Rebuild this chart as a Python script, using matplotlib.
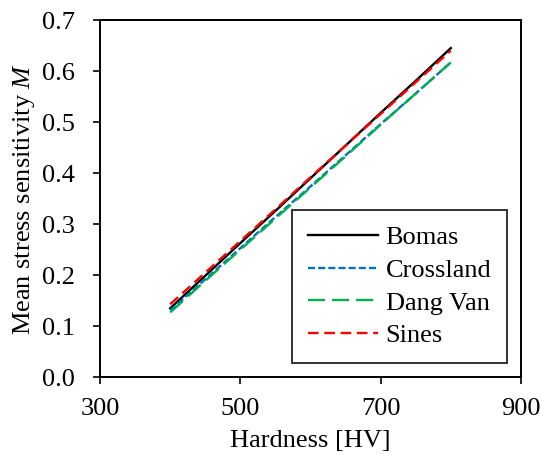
import matplotlib
matplotlib.use("Agg")
import matplotlib.pyplot as plt

plt.rcParams['font.family'] = ['Liberation Serif', 'DejaVu Serif']
plt.rcParams['mathtext.fontset'] = 'custom'
plt.rcParams['mathtext.it'] = 'Liberation Serif:italic'

hardness = [400, 450, 500, 550, 600, 650, 700, 750, 800]
bomas = [0.135, 0.199, 0.263, 0.326, 0.390, 0.454, 0.518, 0.581, 0.645]
crossland = [0.131, 0.192, 0.253, 0.314, 0.374, 0.435, 0.496, 0.556, 0.617]
dang_van = [0.127, 0.189, 0.250, 0.311, 0.372, 0.433, 0.495, 0.556, 0.617]
sines = [0.143, 0.205, 0.267, 0.329, 0.392, 0.454, 0.516, 0.578, 0.640]

fig = plt.figure(figsize=(5.41, 4.55), dpi=100)
ax = fig.add_axes([0.185, 0.171, 0.778, 0.785])

lw = 1.7
ax.plot(hardness, bomas, color='black', lw=lw, label='Bomas')
ax.plot(hardness, crossland, color='#0070C0', lw=lw, dashes=(3.0, 1.3), label='Crossland')
ax.plot(hardness, dang_van, color='#00B050', lw=lw, dashes=(7.2, 3.0), label='Dang Van')
ax.plot(hardness, sines, color='#FF0000', lw=lw, dashes=(4.5, 2.4), label='Sines')

ax.set_xlim(300, 900)
ax.set_ylim(0, 0.7)
ax.set_xticks([300, 500, 700, 900])
ax.set_yticks([0.0, 0.1, 0.2, 0.3, 0.4, 0.5, 0.6, 0.7])
ax.set_yticklabels([f'{v:.1f}' for v in [0.0, 0.1, 0.2, 0.3, 0.4, 0.5, 0.6, 0.7]])
ax.tick_params(axis='both', direction='out', labelsize=19, length=5, width=1.2)
ax.tick_params(axis='y', pad=13)
ax.tick_params(axis='x', pad=10)
for s in ax.spines.values():
    s.set_linewidth(1.4)

ax.set_xlabel('Hardness [HV]', fontsize=19, labelpad=7)
ax.set_ylabel('Mean stress sensitivity $\\mathit{M}$', fontsize=19, labelpad=4)

leg = ax.legend(loc='lower right', bbox_to_anchor=(0.967, 0.039), fontsize=19,
                frameon=True, fancybox=False, edgecolor='black', handlelength=2.65,
                borderpad=0.6, labelspacing=0.35, handletextpad=0.3, borderaxespad=0)
leg.get_frame().set_linewidth(1.4)

fig.savefig('out.png', dpi=100)
